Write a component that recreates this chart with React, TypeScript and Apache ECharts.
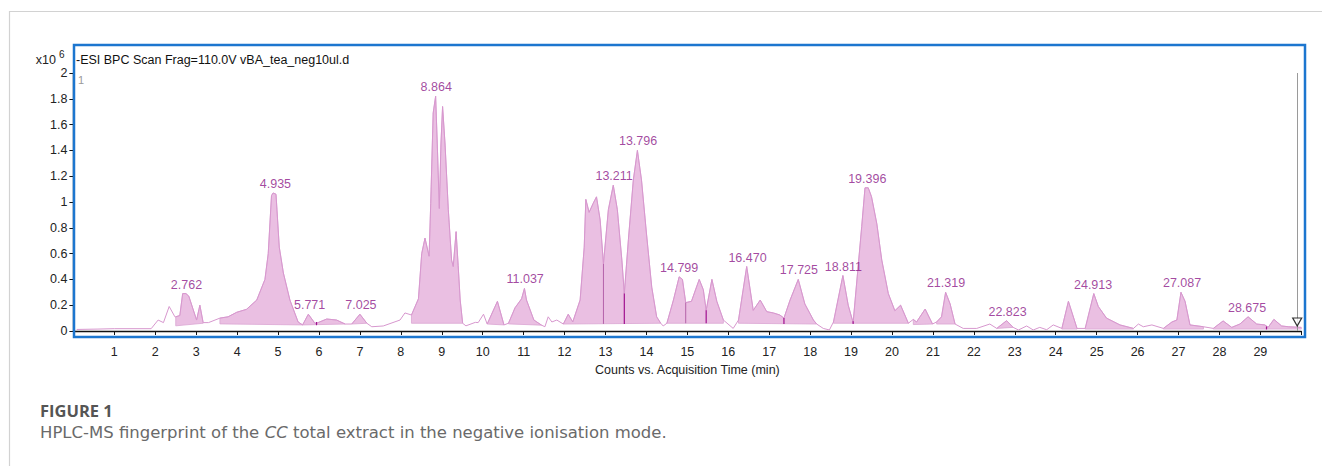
import React, { useEffect, useRef } from "react";
import * as echarts from "echarts";

// Chromatogram trace: [time (min), counts (x10^6)]
const trace: number[][] = [
  [0.08, 0.012], [0.6, 0.015], [1.0, 0.018], [1.9, 0.018], [2.07, 0.085], [2.2, 0.065],
  [2.34, 0.19], [2.48, 0.11], [2.5, 0.11], [2.6, 0.12], [2.67, 0.29], [2.75, 0.29],
  [2.82, 0.27], [3.01, 0.085], [3.09, 0.2], [3.17, 0.065], [3.3, 0.065], [3.58, 0.1],
  [3.78, 0.11], [3.99, 0.145], [4.23, 0.168], [4.48, 0.24], [4.68, 0.4], [4.76, 0.6],
  [4.84, 1.05], [4.88, 1.07], [4.95, 1.06], [5.03, 0.65], [5.13, 0.45], [5.29, 0.24],
  [5.49, 0.07], [5.6, 0.047], [5.74, 0.13], [5.9, 0.06], [5.94, 0.06], [6.19, 0.093],
  [6.43, 0.085], [6.64, 0.054], [6.8, 0.054], [7.0, 0.13], [7.17, 0.06], [7.29, 0.033],
  [7.57, 0.039], [7.98, 0.085], [8.1, 0.14], [8.26, 0.124], [8.43, 0.25], [8.51, 0.6],
  [8.59, 0.72], [8.69, 0.58], [8.73, 0.99], [8.79, 1.69], [8.85, 1.82], [8.89, 1.45],
  [8.94, 0.95], [8.98, 1.45], [9.02, 1.74], [9.08, 1.45], [9.16, 0.94], [9.24, 0.55],
  [9.28, 0.5], [9.35, 0.77], [9.4, 0.51], [9.45, 0.24], [9.51, 0.06], [9.59, 0.04],
  [9.82, 0.067], [9.89, 0.065], [10.02, 0.13], [10.11, 0.054], [10.36, 0.23], [10.52, 0.047],
  [10.63, 0.06], [10.79, 0.18], [10.95, 0.25], [11.02, 0.33], [11.07, 0.24], [11.25, 0.085],
  [11.44, 0.045], [11.52, 0.033], [11.6, 0.11], [11.69, 0.07], [11.81, 0.085], [11.97, 0.054],
  [12.09, 0.13], [12.2, 0.07], [12.38, 0.24], [12.48, 0.65], [12.52, 1.02], [12.6, 0.92],
  [12.7, 0.99], [12.78, 1.04], [12.87, 0.86], [12.95, 0.52], [13.07, 0.94], [13.19, 1.13],
  [13.29, 0.94], [13.4, 0.55], [13.46, 0.29], [13.56, 0.71], [13.68, 1.17], [13.78, 1.4],
  [13.88, 1.17], [14.0, 0.76], [14.13, 0.34], [14.25, 0.11], [14.35, 0.06], [14.41, 0.039],
  [14.5, 0.06], [14.66, 0.24], [14.8, 0.42], [14.88, 0.4], [14.96, 0.22], [15.1, 0.23],
  [15.29, 0.4], [15.39, 0.32], [15.46, 0.16], [15.6, 0.4], [15.72, 0.23], [15.88, 0.085],
  [16.12, 0.02], [16.25, 0.085], [16.45, 0.5], [16.61, 0.16], [16.78, 0.24], [16.94, 0.15],
  [17.1, 0.14], [17.26, 0.124], [17.36, 0.1], [17.51, 0.24], [17.71, 0.4], [17.87, 0.21],
  [18.08, 0.085], [18.16, 0.054], [18.32, 0.02], [18.47, 0.008], [18.57, 0.07], [18.8, 0.43],
  [18.93, 0.2], [19.05, 0.065], [19.26, 0.81], [19.34, 1.11], [19.42, 1.11], [19.5, 1.04],
  [19.63, 0.83], [19.75, 0.55], [19.91, 0.29], [20.07, 0.157], [20.21, 0.2], [20.4, 0.06],
  [20.52, 0.09], [20.6, 0.07], [20.81, 0.17], [20.99, 0.054], [21.09, 0.07], [21.21, 0.11],
  [21.31, 0.3], [21.42, 0.21], [21.54, 0.054], [21.74, 0.02], [22.07, 0.02], [22.39, 0.054],
  [22.56, 0.02], [22.8, 0.08], [22.96, 0.028], [23.09, 0.008], [23.29, 0.039], [23.45, 0.008],
  [23.61, 0.028], [23.78, 0.01], [23.94, 0.047], [24.15, 0.02], [24.31, 0.23], [24.52, 0.02],
  [24.72, 0.02], [24.93, 0.29], [25.04, 0.19], [25.24, 0.1], [25.57, 0.047], [25.9, 0.02],
  [26.02, 0.054], [26.14, 0.033], [26.35, 0.047], [26.63, 0.02], [26.84, 0.07], [26.96, 0.085],
  [27.06, 0.3], [27.16, 0.23], [27.28, 0.047], [27.61, 0.033], [27.85, 0.02], [28.09, 0.078],
  [28.3, 0.028], [28.5, 0.054], [28.7, 0.11], [28.91, 0.054], [29.11, 0.047], [29.19, 0.028],
  [29.33, 0.09], [29.52, 0.039], [29.68, 0.033], [30.0, 0.028],
];

// Integrated peak regions: [start, end, baseline at start, baseline at end]
const fillRegions: number[][] = [
  [2.5, 3.17, 0.04, 0.06], [3.58, 5.6, 0.055, 0.047], [5.6, 6.64, 0.047, 0.054],
  [6.8, 7.17, 0.054, 0.06], [8.26, 9.51, 0.06, 0.06], [10.11, 10.52, 0.054, 0.047],
  [10.63, 11.44, 0.055, 0.045], [11.97, 14.35, 0.054, 0.06], [14.5, 15.88, 0.06, 0.06],
  [16.25, 18.16, 0.06, 0.054], [18.57, 20.4, 0.06, 0.06], [20.52, 20.99, 0.05, 0.054],
  [21.09, 21.54, 0.054, 0.054], [22.56, 22.96, 0.02, 0.028], [24.15, 24.52, 0.015, 0.015],
  [24.72, 25.9, 0.015, 0.015], [26.63, 27.61, 0.015, 0.015], [27.85, 30.0, 0.015, 0.015],
];

// Peak split drop lines: [time, bottom, top]
const splitsLight: number[][] = [[12.95, 0.055, 0.52], [14.96, 0.06, 0.22]];
const splitsDark: number[][] = [
  [5.94, 0.045, 0.07], [13.46, 0.055, 0.29], [15.46, 0.06, 0.16],
  [17.36, 0.055, 0.1], [19.05, 0.055, 0.075], [29.15, 0.012, 0.035],
];

// Peak labels: [retention time, apex counts]
const peakLabels: number[][] = [
  [2.762, 0.29], [4.935, 1.07], [5.771, 0.13], [7.025, 0.13], [8.864, 1.82], [11.037, 0.33],
  [13.211, 1.13], [13.796, 1.4], [14.799, 0.42], [16.47, 0.5], [17.725, 0.4], [18.811, 0.43],
  [19.396, 1.11], [21.319, 0.3], [22.823, 0.08], [24.913, 0.29], [27.087, 0.3], [28.675, 0.11],
];

const cursorTime = 29.9;
const cursorMarker: number[][] = [[29.9, 0.07]];

const FONT = "'Liberation Sans', Arial, sans-serif";
const FILL = "#eabfe2";
const LINE = "#d797ce";
const LABEL = "#8c1888";

export default function App() {
  const ref = useRef<HTMLDivElement>(null);
  useEffect(() => {
    if (!ref.current) return;
    const chart = echarts.init(ref.current, null, { renderer: "svg" });
    const option: any = {
      animation: false,
      backgroundColor: "#ffffff",
      textStyle: { fontFamily: FONT },
      grid: { left: 73.4, right: 20.7, top: 73, bottom: 135, containLabel: false },
      xAxis: {
        type: "value",
        min: 0,
        max: 30,
        interval: 1,
        offset: 8.5,
        axisLine: { show: true, lineStyle: { color: "#111", width: 1.3 } },
        axisTick: { show: true, length: 4, lineStyle: { color: "#111" } },
        axisLabel: {
          margin: 6,
          fontSize: 12.5,
          color: "#222",
          fontFamily: FONT,
          formatter: (v: number) => (v === 0 || v === 30 ? "" : String(v)),
        },
        splitLine: { show: false },
        name: "Counts vs. Acquisition Time (min)",
        nameLocation: "middle",
        nameGap: 21,
        nameTextStyle: { fontSize: 12.5, color: "#222", fontFamily: FONT },
      },
      yAxis: {
        type: "value",
        min: 0,
        max: 2,
        interval: 0.2,
        offset: 2,
        axisLine: { show: true, lineStyle: { color: "#111", width: 1.3 } },
        axisTick: { show: true, length: 4, lineStyle: { color: "#111" } },
        axisLabel: {
          margin: 4,
          fontSize: 12.5,
          color: "#222",
          fontFamily: FONT,
          formatter: (v: number) => String(+v.toFixed(1)),
        },
        splitLine: { show: false },
      },
      series: [
        {
          type: "custom",
          z: 1,
          clip: true,
          data: fillRegions,
          renderItem: (_p: any, api: any) => {
            const s = api.value(0), e = api.value(1), b0 = api.value(2), b1 = api.value(3);
            const pts: number[][] = [api.coord([s, b0])];
            for (const [t, v] of trace) {
              if (t >= s - 1e-9 && t <= e + 1e-9) pts.push(api.coord([t, v]));
            }
            pts.push(api.coord([e, b1]));
            return {
              type: "polygon",
              shape: { points: pts },
              style: { fill: FILL, stroke: "#dba6d3", lineWidth: 0.8 },
            };
          },
        },
        {
          type: "line",
          z: 2,
          data: trace,
          symbol: "none",
          lineStyle: { color: LINE, width: 1 },
        },
        {
          type: "custom",
          z: 3,
          data: splitsLight,
          renderItem: (_p: any, api: any) => {
            const a = api.coord([api.value(0), api.value(1)]);
            const b = api.coord([api.value(0), api.value(2)]);
            return {
              type: "line",
              shape: { x1: a[0], y1: a[1], x2: b[0], y2: b[1] },
              style: { stroke: "#b462a9", lineWidth: 1 },
            };
          },
        },
        {
          type: "custom",
          z: 3,
          data: splitsDark,
          renderItem: (_p: any, api: any) => {
            const a = api.coord([api.value(0), api.value(1)]);
            const b = api.coord([api.value(0), api.value(2)]);
            return {
              type: "line",
              shape: { x1: a[0], y1: a[1], x2: b[0], y2: b[1] },
              style: { stroke: "#a0108f", lineWidth: 1.2 },
            };
          },
        },
        {
          type: "scatter",
          z: 4,
          data: peakLabels,
          symbolSize: 1,
          itemStyle: { color: "rgba(0,0,0,0)" },
          label: {
            show: true,
            position: "top",
            distance: 2,
            color: LABEL,
            fontSize: 12.5,
            fontFamily: FONT,
            formatter: (p: any) => p.value[0].toFixed(3),
          },
        },
        {
          type: "scatter",
          z: 5,
          data: cursorMarker,
          symbol: "triangle",
          symbolRotate: 180,
          symbolSize: [9, 8],
          itemStyle: { color: "#ffffff", borderColor: "#000", borderWidth: 1.2 },
          markLine: {
            silent: true,
            symbol: "none",
            label: { show: false },
            lineStyle: { color: "#9a9a9a", width: 1, type: "solid" },
            data: [{ xAxis: cursorTime }],
          },
        },
      ],
      graphic: [
        {
          type: "rect",
          z: 0,
          shape: { x: 9.5, y: 11.5, width: 1400, height: 500 },
          style: { fill: "none", stroke: "#d2d2d2", lineWidth: 1.2 },
        },
        {
          type: "rect",
          z: 10,
          shape: { x: 74, y: 45, width: 1231, height: 292 },
          style: { fill: "none", stroke: "#1c76cf", lineWidth: 2.5 },
        },
        {
          type: "text",
          x: 56,
          y: 60,
          style: { text: "x10", font: `12.5px ${FONT}`, fill: "#222", align: "right", verticalAlign: "middle" },
        },
        {
          type: "text",
          x: 59,
          y: 54,
          style: { text: "6", font: `10px ${FONT}`, fill: "#222", align: "left", verticalAlign: "middle" },
        },
        {
          type: "text",
          x: 76,
          y: 60,
          style: {
            text: "-ESI BPC Scan Frag=110.0V vBA_tea_neg10ul.d",
            font: `12.5px ${FONT}`,
            fill: "#111",
            align: "left",
            verticalAlign: "middle",
          },
        },
        {
          type: "text",
          x: 78,
          y: 80,
          style: { text: "1", font: `11px ${FONT}`, fill: "#9a9a9a", align: "left", verticalAlign: "middle" },
        },
        {
          type: "text",
          x: 40,
          y: 410,
          style: {
            text: "FIGURE 1",
            font: `bold 16.5px 'Open Sans', 'Noto Sans', sans-serif`,
            fill: "#555",
            align: "left",
            verticalAlign: "middle",
          },
        },
        {
          type: "text",
          x: 40,
          y: 433,
          scaleX: 1.1,
          style: {
            text: "{n|HPLC-MS fingerprint of the }{i|CC}{n| total extract in the negative ionisation mode.}",
            align: "left",
            verticalAlign: "middle",
            rich: {
              n: { font: `15px 'DejaVu Sans', sans-serif`, fill: "#6a6a6a" },
              i: { font: `oblique 15px 'DejaVu Sans', sans-serif`, fill: "#6a6a6a" },
            },
          },
        },
      ],
    };
    chart.setOption(option);
    return () => chart.dispose();
  }, []);
  return (
    <div
      ref={ref}
      style={{ position: "absolute", left: 0, top: 0, width: 1322, height: 466 }}
    />
  );
}
